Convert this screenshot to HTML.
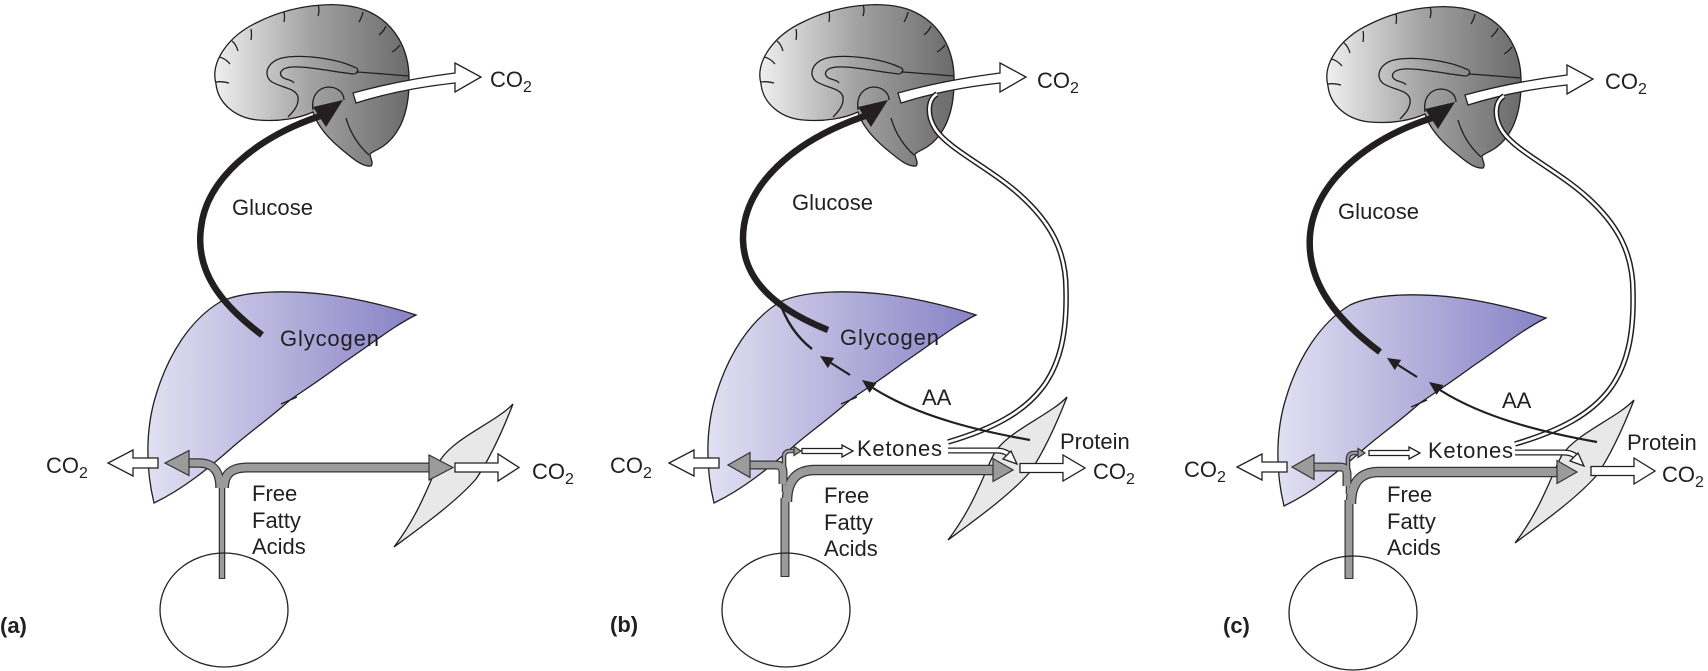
<!DOCTYPE html>
<html><head><meta charset="utf-8"><style>
html,body{margin:0;padding:0;background:#fff;}
svg{display:block;}
.t{font-family:"Liberation Sans",Arial,sans-serif;font-size:22px;fill:#231f20;}
.b{font-family:"Liberation Sans",Arial,sans-serif;font-size:22px;font-weight:bold;fill:#231f20;}
.ln{fill:none;stroke:#231f20;stroke-width:1.3;}
.wa{fill:#fff;stroke:#231f20;stroke-width:1.3;stroke-linejoin:miter;}
.ga{fill:#9b9b9b;stroke:#333;stroke-width:1.2;}
</style></head><body>
<svg width="1708" height="671" viewBox="0 0 1708 671" xmlns="http://www.w3.org/2000/svg">
<defs>
 <linearGradient id="gb" x1="0" y1="0" x2="1" y2="0">
  <stop offset="0" stop-color="#efefef"/><stop offset="0.5" stop-color="#a2a2a2"/><stop offset="1" stop-color="#6b6b6b"/>
 </linearGradient>
 <linearGradient id="gl" x1="0" y1="0" x2="1" y2="0">
  <stop offset="0" stop-color="#e2e0f2"/><stop offset="1" stop-color="#8782c6"/>
 </linearGradient>
 <g id="brain">
  <path d="M216,84 C210,62 228,36 258,22 C290,6 335,-1 365,10 C395,22 410,50 409,82 C409,112 400,135 382,147 C377,150 372,152 370,154 C370,158 374,163 371,166 C362,167 352,158 340,148 C327,137 317,125 313,112 C300,118 280,122 258,120 C235,118 218,103 216,84 Z" fill="url(#gb)" stroke="#231f20" stroke-width="1.3"/>
  <path class="ln" d="M354,67 C335,58 300,54 282,58 C266,62 263,76 272,82 C282,88 296,88 298,97 C299,105 294,111 288,117"/>
  <path class="ln" d="M354,74 C335,72 306,66 292,67 C279,68 277,76 286,79 C290,80 293,81 294,83"/>
  <path class="ln" d="M354,67 C359,68 359,73 354,74"/>
  <path class="ln" d="M356,72 C375,73 395,75 409,76"/>
  <path class="ln" d="M313,110 C311,96 318,88 328,87 C338,87 344,93 344,100"/>
  <path class="ln" d="M346,118 C350,132 358,145 369,155"/>
  <path class="ln" d="M216,82 Q222,81 229,83 M219,57 Q225,58 230,64 M232,41 Q236,44 238,51 M251,29 Q252,34 251,40 M284,12 Q285,16 284,22 M318,5 Q320,10 318,16 M363,12 Q362,17 359,22 M386,26 Q384,31 379,35 M400,45 Q397,49 392,52"/>
  <path class="wa" d="M353,93 Q400,80 455,73 L455,63 L481,77 L455,92 L455,83 Q400,89 356,103 Z"/>
 </g>
 <path id="liver" d="M154,503 C146,470 145,430 156,395 C168,355 190,320 220,302 C245,290 290,290 330,295 C360,299 395,308 416,315 C395,325 370,345 343,363 C320,380 300,393 290,400 C270,418 250,432 235,445 C210,467 185,488 154,503 Z" fill="url(#gl)" stroke="#231f20" stroke-width="1.3"/>
 <path id="notch" class="ln" d="M281,404 L297,397"/>
 <path id="muscle" d="M1067,397 C1050,415 1010,430 995,452 C985,470 975,505 948,540 C975,520 1010,495 1030,472 C1045,450 1058,420 1067,397 Z" fill="#e8e8e8" stroke="#231f20" stroke-width="1.3"/>
 <g id="pipesB">
  <g fill="none" stroke="#333" stroke-linecap="butt">
   <path d="M785,577 V498" stroke-width="9"/>
   <path d="M783,484 V472 Q783,465 776,465 H748" stroke-width="9"/>
   <path d="M784,492 V457 Q784,451 790,451 H795" stroke-width="4.6"/>
   <path d="M787,502 C787,481 796,470 815,470 H995" stroke-width="10.5"/>
  </g>
  <g fill="none" stroke="#9b9b9b" stroke-linecap="butt">
   <path d="M785,576 V498" stroke-width="6.6"/>
   <path d="M783,484 V472 Q783,465 776,465 H748" stroke-width="6.6"/>
   <path d="M784,492 V457 Q784,451 790,451 H795" stroke-width="2.2"/>
   <path d="M787,502 C787,481 796,470 815,470 H995" stroke-width="8"/>
  </g>
  <polygon class="ga" points="728,465 750,452.5 750,477.5"/>
  <polygon class="ga" points="1013,470 993,458.5 993,481.5"/>
  <polygon class="ga" points="801,451 794,446.5 794,455.5"/>
 </g>
 <g id="rightB">
  <path class="wa" d="M802,448.5 H842 V445 L853,451 L842,457 V453.5 H802 Z"/>
  <path d="M948,450.5 H996 C1004,450.5 1008,453 1010,456" fill="none" stroke="#231f20" stroke-width="6"/>
  <path d="M947,450.5 H996 C1004,450.5 1008,453 1010,456" fill="none" stroke="#fff" stroke-width="3.4"/>
  <polygon class="wa" points="1017,464 1003,459 1011,451"/>
  <path d="M937,94 C928,99 926,115 936,130 C950,150 990,168 1020,195 C1050,222 1066,250 1066,290 C1068,375 1040,415 948,442" fill="none" stroke="#231f20" stroke-width="5.6"/>
  <path d="M937,94 C928,99 926,115 936,130 C950,150 990,168 1020,195 C1050,222 1066,250 1066,290 C1068,375 1040,415 948,442" fill="none" stroke="#fff" stroke-width="2.6"/>
  <path d="M1030,440 C985,432 920,418 873,388" fill="none" stroke="#231f20" stroke-width="2.2"/>
  <polygon points="862,380 876.5,383.1 869.5,392.9" fill="#231f20"/>
  <path d="M850,375 L831,363" fill="none" stroke="#231f20" stroke-width="2.2"/>
  <polygon points="820,356 834.2,357.9 827.8,368.1" fill="#231f20"/>
 </g>
</defs>

<!-- ===== Panel (a) ===== -->
<use href="#brain"/>
<use href="#liver"/>
<use href="#notch"/>
<path d="M262,335 C222,305 195,272 201,228 C206,180 255,138 320,116" fill="none" stroke="#231f20" stroke-width="6.5"/>
<polygon points="343,100 313,107 326,127" fill="#231f20"/>
<use href="#muscle" transform="translate(-554,7)"/>
<g fill="none" stroke="#333">
 <path d="M222,579 V484" stroke-width="6.5"/>
 <path d="M220,488 C220,471 213,463 199,463 H186" stroke-width="9.5"/>
 <path d="M224,488 C224,473 232,467.5 248,467.5 H431" stroke-width="10"/>
</g>
<g fill="none" stroke="#9b9b9b">
 <path d="M222,578 V484" stroke-width="4"/>
 <path d="M220,488 C220,471 213,463 199,463 H186" stroke-width="7"/>
 <path d="M224,488 C224,473 232,467.5 248,467.5 H431" stroke-width="7.5"/>
</g>
<polygon class="ga" points="165,463 189,450.5 189,475.5"/>
<polygon class="ga" points="453,467.5 429,455 429,480"/>
<path class="wa" d="M158,458 H133 V450 L108,463 L133,476 V468 H158 Z"/>
<path class="wa" d="M455,463 H498 V454 L519,467.5 L498,481 V472 H455 Z"/>
<ellipse cx="224" cy="610" rx="64" ry="57" fill="none" stroke="#231f20" stroke-width="1.3"/>
<text class="t" x="490" y="87">CO<tspan font-size="16" dy="5">2</tspan></text>
<text class="t" x="232" y="215" textLength="81">Glucose</text>
<text class="t" x="280" y="346" textLength="99">Glycogen</text>
<text class="t" x="46" y="473">CO<tspan font-size="16" dy="5">2</tspan></text>
<text class="t" x="532" y="479">CO<tspan font-size="16" dy="5">2</tspan></text>
<text class="t" x="252" y="501">Free</text>
<text class="t" x="252" y="528">Fatty</text>
<text class="t" x="252" y="554">Acids</text>
<text class="b" x="0" y="633">(a)</text>

<!-- ===== Panel (b) ===== -->
<use href="#brain" transform="translate(545,0)"/>
<use href="#liver" transform="translate(560,0)"/>
<use href="#notch" transform="translate(560,0)"/>
<path d="M828,330 C790,315 744,288 743,240 C742,185 795,140 865,116" fill="none" stroke="#231f20" stroke-width="6.5"/>
<polygon points="888,100 858,107 871,127" fill="#231f20"/>
<path d="M779,300 C786,322 798,338 812,349" fill="none" stroke="#231f20" stroke-width="2.4"/>
<use href="#muscle"/>
<use href="#pipesB"/>
<path class="wa" d="M719,458 H694 V450 L669,463 L694,476 V468 H719 Z"/>
<path class="wa" d="M1020,463.5 H1063 V455 L1085,468 L1063,481 V472.5 H1020 Z"/>
<use href="#rightB"/>
<ellipse cx="786" cy="610" rx="64" ry="57" fill="none" stroke="#231f20" stroke-width="1.3"/>
<text class="t" x="1037" y="88">CO<tspan font-size="16" dy="5">2</tspan></text>
<text class="t" x="792" y="210" textLength="81">Glucose</text>
<text class="t" x="840" y="345" textLength="99">Glycogen</text>
<text class="t" x="922" y="405">AA</text>
<text class="t" x="857" y="456" textLength="85">Ketones</text>
<text class="t" x="1060" y="449">Protein</text>
<text class="t" x="610" y="473">CO<tspan font-size="16" dy="5">2</tspan></text>
<text class="t" x="1093" y="479">CO<tspan font-size="16" dy="5">2</tspan></text>
<text class="t" x="824" y="503">Free</text>
<text class="t" x="824" y="530">Fatty</text>
<text class="t" x="824" y="556">Acids</text>
<text class="b" x="610" y="632">(b)</text>

<!-- ===== Panel (c) ===== -->
<use href="#brain" transform="translate(1112,2)"/>
<use href="#liver" transform="translate(1130,3)"/>
<use href="#notch" transform="translate(1130,3)"/>
<path d="M1380,352 C1340,322 1306,285 1310,235 C1315,180 1370,138 1432,118" fill="none" stroke="#231f20" stroke-width="6.5"/>
<polygon points="1455,102 1425,109 1438,129" fill="#231f20"/>
<use href="#muscle" transform="translate(567,3)"/>
<use href="#pipesB" transform="translate(564,2)"/>
<path class="wa" d="M1287,462 H1262 V454 L1237,467 L1262,480 V472 H1287 Z"/>
<path class="wa" d="M1591,466.5 H1634 V458 L1655,471 L1634,484 V475.5 H1591 Z"/>
<use href="#rightB" transform="translate(567,2)"/>
<ellipse cx="1353" cy="613" rx="64" ry="57" fill="none" stroke="#231f20" stroke-width="1.3"/>
<text class="t" x="1605" y="89">CO<tspan font-size="16" dy="5">2</tspan></text>
<text class="t" x="1338" y="219" textLength="81">Glucose</text>
<text class="t" x="1502" y="408">AA</text>
<text class="t" x="1428" y="458" textLength="85">Ketones</text>
<text class="t" x="1627" y="450">Protein</text>
<text class="t" x="1184" y="477">CO<tspan font-size="16" dy="5">2</tspan></text>
<text class="t" x="1662" y="482">CO<tspan font-size="16" dy="5">2</tspan></text>
<text class="t" x="1387" y="502">Free</text>
<text class="t" x="1387" y="529">Fatty</text>
<text class="t" x="1387" y="555">Acids</text>
<text class="b" x="1223" y="633">(c)</text>
</svg>
</body></html>
